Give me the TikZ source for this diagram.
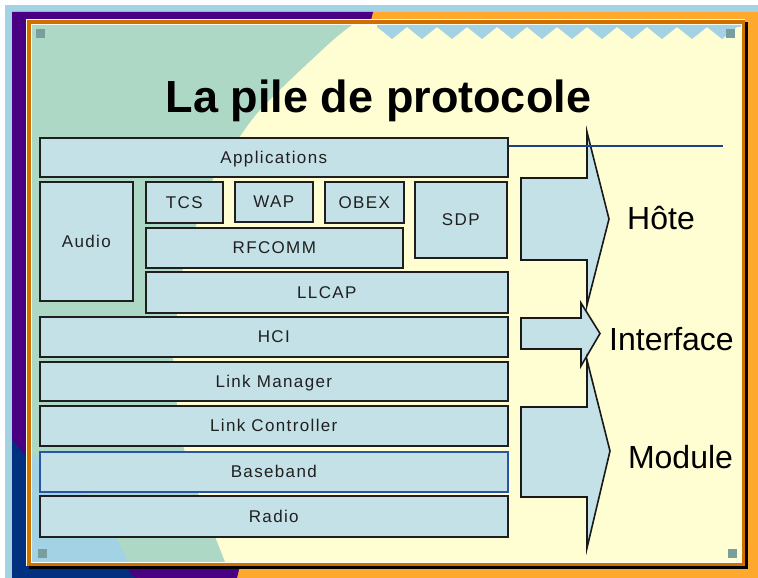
\documentclass[tikz,border=0pt]{standalone}
\usepackage{fontspec}
\setmainfont{Liberation Sans}
\newfontfamily\boxfont[LetterSpace=8]{Liberation Sans}
\definecolor{boxfill}{HTML}{C4E1E7}
\definecolor{panelgreen}{HTML}{ADD8C5}
\definecolor{panelcream}{HTML}{FFFDD2}
\definecolor{skyblue}{HTML}{A3D2E5}
\definecolor{deeppurple}{HTML}{4A0082}
\definecolor{navyband}{HTML}{00307F}
\definecolor{outerorange}{HTML}{FFA82E}
\definecolor{frameorange}{HTML}{D07000}
\definecolor{cornersq}{HTML}{7A9E9E}
\definecolor{lineblue}{HTML}{1F3F8F}
\definecolor{bbblue}{HTML}{2A55A5}
\definecolor{textdark}{HTML}{202020}
\tikzset{
  layer/.style={draw=black!88, fill=boxfill, line width=1.6pt, rectangle,
    inner sep=0pt, anchor=north west, text height=12.2pt, text depth=0pt,
    font=\boxfont\fontsize{17}{20}\selectfont, text=textdark},
  bigarrow/.style={draw=black!90, fill=boxfill, line width=1.6pt, line join=miter},
  biglabel/.style={inner sep=0pt, anchor=base, font=\fontsize{32}{38}\selectfont, text=black},
  cornerbox/.style={fill=cornersq}
}
\begin{document}
\begin{tikzpicture}[x=1pt,y=-1pt]
\useasboundingbox (0,0) rectangle (758,578);
% outer background
\fill[white] (0,0) rectangle (758,578);
\fill[skyblue] (5,5) rectangle (758,578);
\fill[outerorange] (12,12) rectangle (758,578);
\fill[deeppurple] (12,12) -- (373,12) -- (237,578) -- (12,578) -- cycle;
\fill[navyband] (12,440) -- (135,578) -- (12,578) -- cycle;
% frame
\fill[black] (29,22) rectangle (748,569);
\fill[frameorange] (26,19) rectangle (745,566);
\draw[panelcream, line width=1.4pt] (26.7,566) -- (26.7,19.7) -- (745,19.7);
% inner panel
\begin{scope}
\clip (32,25) rectangle (741,562);
\fill[panelcream] (32,25) rectangle (741,562);
\fill[panelgreen] (32,25) -- plot[smooth] coordinates {(352,25) (333,40) (290,80) (260,110) (243,132) (215,175) (197,223) (183,268) (177,313) (173,360) (177,405) (183,445) (197,490) (225,562)} -- (32,562) -- cycle;
\fill[skyblue] (32,455) .. controls (60,468) and (105,510) .. (128,562) -- (32,562) -- cycle;
\fill[skyblue] (377,25) -- (377,27) \foreach \k in {0,...,11} { -- ({392+30*\k},39) -- ({407+30*\k},27) } -- (741,27) -- (741,25) -- cycle;
\fill[cornerbox] (36,29) rectangle (45,38);
\fill[cornerbox] (726,29) rectangle (735,38);
\fill[cornerbox] (38,549) rectangle (47,558);
\fill[cornerbox] (728,549) rectangle (737,558);
\end{scope}
\draw[white!70!panelcream, line width=0.8pt] (31.6,24.6) rectangle (741.4,562.4);
% title
\node[inner sep=0pt, anchor=base, font=\fontsize{45}{54}\selectfont\bfseries] (title) at (378.5,112) {La pile de protocole};
% protocol layers
\node[layer, minimum width=468pt, minimum height=39pt] (app) at (39,137) {Applications};
\node[layer, minimum width=93pt, minimum height=119pt] (audio) at (39,181) {Audio};
\node[layer, minimum width=77pt, minimum height=41pt] (tcs) at (145,181) {TCS};
\node[layer, minimum width=78pt, minimum height=40pt] (wap) at (234,181) {WAP};
\node[layer, minimum width=79pt, minimum height=41pt] (obex) at (324,181) {OBEX};
\node[layer, minimum width=92pt, minimum height=76pt] (sdp) at (414,181) {SDP};
\node[layer, minimum width=257pt, minimum height=40pt] (rfcomm) at (145,227) {RFCOMM};
\node[layer, minimum width=362pt, minimum height=41pt] (llcap) at (145,271) {LLCAP};
\node[layer, minimum width=468pt, minimum height=40pt] (hci) at (39,316) {HCI};
\node[layer, minimum width=468pt, minimum height=39pt] (lm) at (39,361) {Link Manager};
\node[layer, minimum width=468pt, minimum height=40pt] (lc) at (39,405) {Link Controller};
\node[layer, draw=bbblue, minimum width=468pt, minimum height=40pt] (bb) at (39,451) {Baseband};
\node[layer, minimum width=468pt, minimum height=41pt] (radio) at (39,495) {Radio};
% block arrows
\draw[bigarrow] (521,178) -- (587,178) -- (587,132) -- (609,219) -- (587,305) -- (587,260) -- (521,260) -- cycle;
\draw[bigarrow] (521,318) -- (581,318) -- (581,303) -- (600,333.5) -- (581,366) -- (581,349) -- (521,349) -- cycle;
\draw[bigarrow] (521,407) -- (587,407) -- (587,360) -- (610,451) -- (587,548) -- (587,497) -- (521,497) -- cycle;
% line
\coordinate (lineend) at (723,146);
\draw[lineblue, line width=1.3pt] (app.east |- lineend) -- (lineend);
% labels
\node[biglabel] (hote) at (661,229) {Hôte};
\node[biglabel] (interface) at (671.5,350) {Interface};
\node[biglabel] (module) at (680.5,468) {Module};
\end{tikzpicture}
\end{document}
